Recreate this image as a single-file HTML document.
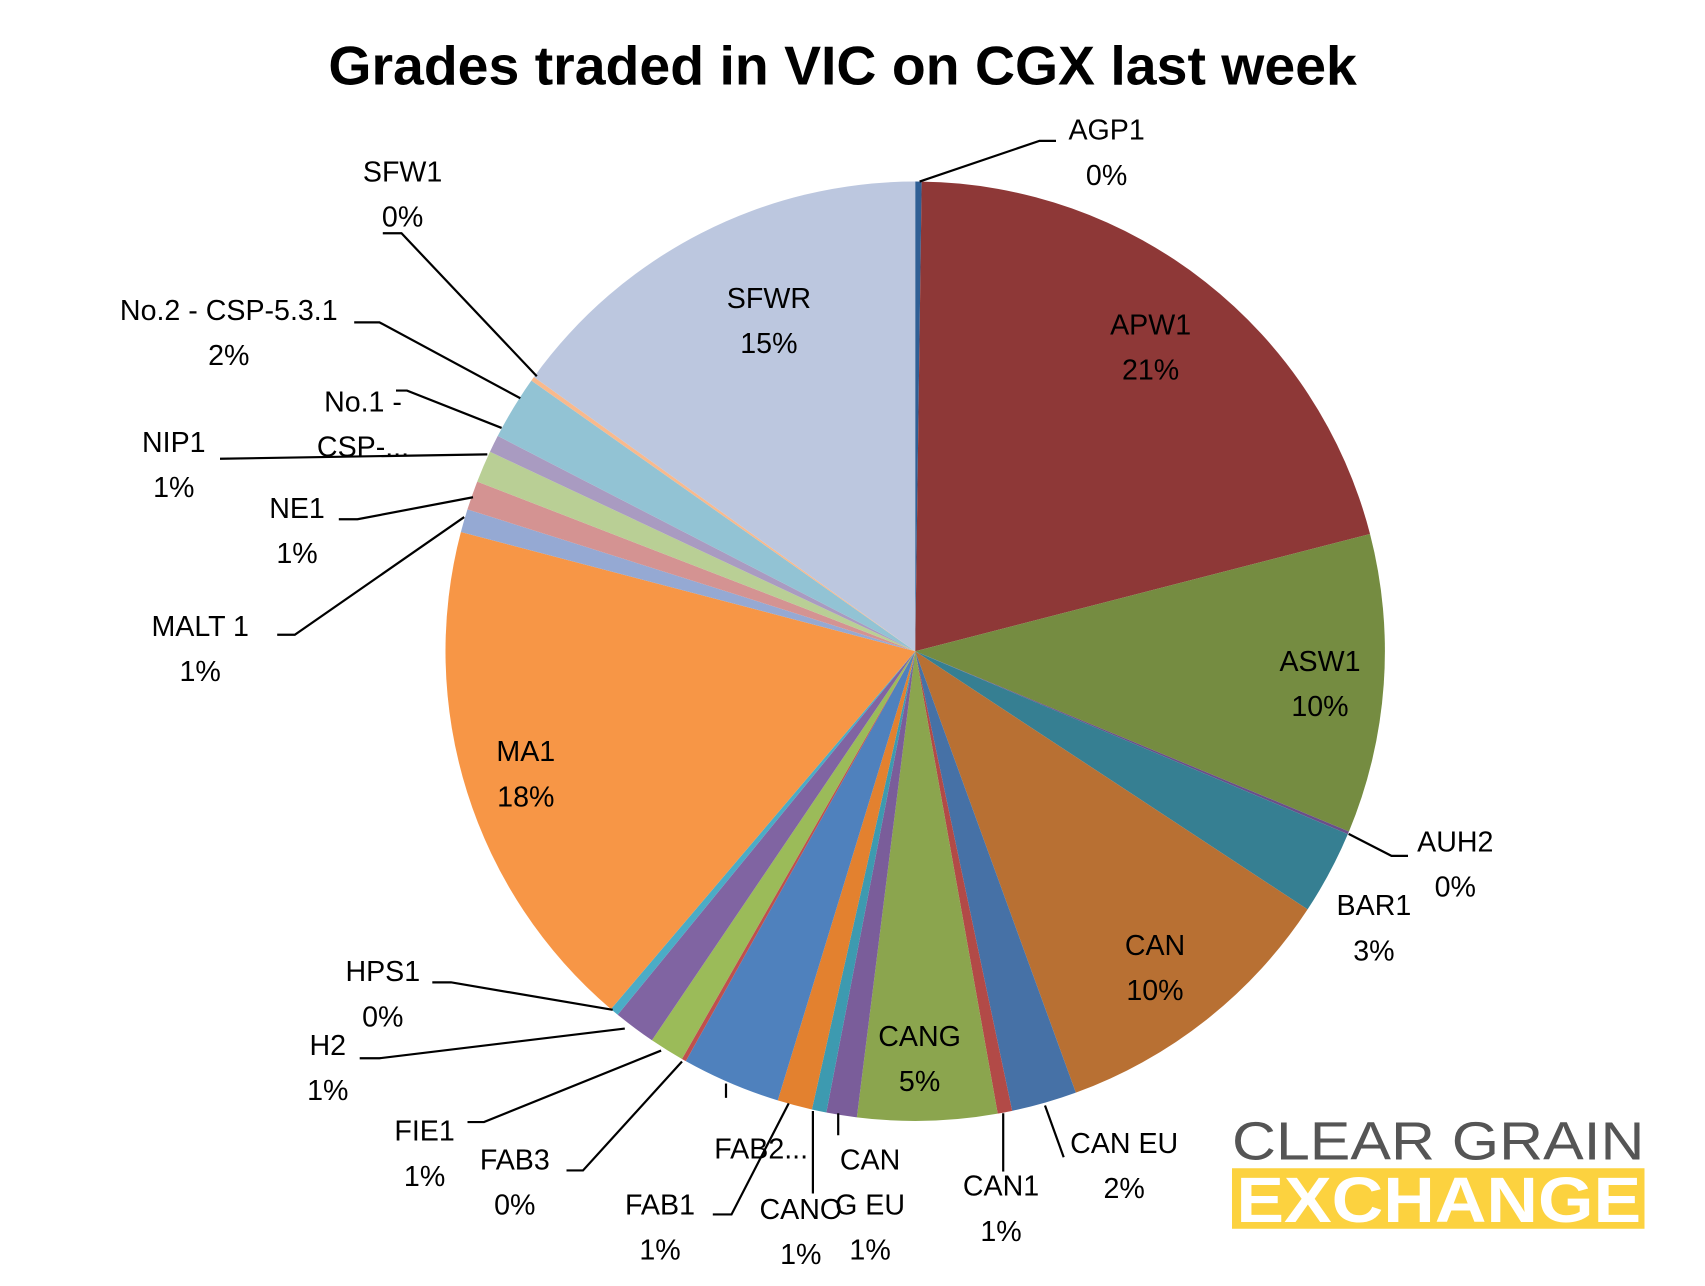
<!DOCTYPE html>
<html><head><meta charset="utf-8"><style>
html,body{margin:0;padding:0;background:#fff;}
svg{display:block;}
text{font-family:"Liberation Sans",sans-serif;}
</style></head><body>
<svg id="chart" width="1705" height="1286" viewBox="0 0 1550 1169" xmlns="http://www.w3.org/2000/svg">
<rect width="1550" height="1169" fill="#fff"/>
<text x="766" y="77" text-anchor="middle" font-size="50" font-weight="bold" textLength="935" lengthAdjust="spacingAndGlyphs">Grades traded in VIC on CGX last week</text>
<g id="slices"></g>
<g id="leaders" stroke="#000" stroke-width="2" fill="none">
<polyline points="836,165 945,128 960,128"/>
<polyline points="488,342 365,212 348,212"/>
<polyline points="473,362 345,293 322,293"/>
<polyline points="456,389 370,355 360,355"/>
<polyline points="443,413 200,417"/>
<polyline points="430,452 325,472 308,472"/>
<polyline points="422,470 268,577 252,577"/>
<polyline points="557,918 410,893 393,893"/>
<polyline points="568,935 345,962 327,962"/>
<polyline points="601,955 440,1020 425,1020"/>
<polyline points="620,965 530,1064 515,1064"/>
<polyline points="660,985 660,998"/>
<polyline points="717,1003 665,1104 648,1104"/>
<polyline points="739,1010 739,1085"/>
<polyline points="762,1012 762,1032"/>
<polyline points="912,1012 912,1065"/>
<polyline points="950,1005 967,1052"/>
<polyline points="1226,758 1265,778 1280,778"/>
</g>
<g id="labels" font-size="26" text-anchor="middle"></g>
<g>
<text x="1120" y="1054" font-size="49" fill="#555" textLength="375" lengthAdjust="spacingAndGlyphs">CLEAR GRAIN</text>
<rect x="1120" y="1062" width="375" height="55" fill="#fcd23f"/>
<text x="1124" y="1111" font-size="58" font-weight="bold" fill="#fff" textLength="368" lengthAdjust="spacingAndGlyphs">EXCHANGE</text>
</g>
</svg>
<script>
const categories=["AGP1","APW1","ASW1","AUH2","BAR1","CAN","CAN EU","CAN1","CANG","CANG EU","CANO","FAB2","FAB1","FAB3","FIE1","H2","HPS1","MA1","MALT 1","NE1","NIP1","No.1 - CSP","No.2 - CSP-5.3.1","SFW1","SFWR"];
const values=[0.22,20.8,10.3,0.1,2.9,10.2,2.25,0.5,4.8,1.05,0.5,1.2,3.4,0.15,1.2,1.45,0.3,17.9,0.8,1.0,1.1,0.6,2.2,0.15,15.1];
const pctLabels=["0%","21%","10%","0%","3%","10%","2%","1%","5%","1%","1%","","1%","0%","1%","1%","0%","18%","1%","1%","1%","","2%","0%","15%"];
const colors=["#2f5f95","#8e3837","#758c41","#6a4f8a","#367f92","#b87033","#4671a6","#b24a47","#8ba54e","#7a5d9a","#3d9ab0","#e3812f","#4f81bd","#c0504d","#9bbb59","#8064a2","#4bacc6","#f79646","#95a9d3","#d49392","#b9cf95","#a99bc1","#92c3d4","#f9b98c","#bcc7df"];
const labelLines=[["AGP1","0%"],["APW1","21%"],["ASW1","10%"],["AUH2","0%"],["BAR1","3%"],["CAN","10%"],["CAN EU","2%"],["CAN1","1%"],["CANG","5%"],["CAN","G EU","1%"],["CANO","1%"],["FAB2..."],["FAB1","1%"],["FAB3","0%"],["FIE1","1%"],["H2","1%"],["HPS1","0%"],["MA1","18%"],["MALT 1","1%"],["NE1","1%"],["NIP1","1%"],["No.1 -","CSP-..."],["No.2 - CSP-5.3.1","2%"],["SFW1","0%"],["SFWR","15%"]];
const labelPos=[[1006,127],[1046,304],[1200,610],[1323,774],[1249,832],[1050,868],[1022,1048],[910,1087],[836,951],[791,1063],[728,1108],[692,1053],[600,1104],[468,1063],[386,1037],[298,959],[348,892],[478,692],[182,578],[270,471],[158,411],[330,374],[208,291],[366,165],[699,280]];
const cx=832,cy=592,r=427;
const total=values.reduce((a,b)=>a+b,0);
const angle=v=>v/total*2*Math.PI;
const pt=a=>[cx+r*Math.sin(a),cy-r*Math.cos(a)];
const ns="http://www.w3.org/2000/svg";
const sg=document.getElementById('slices');
let a0=0;
values.forEach((v,i)=>{
  const a1=a0+angle(v);
  const p0=pt(a0),p1=pt(a1);
  const large=(a1-a0)>Math.PI?1:0;
  const p=document.createElementNS(ns,'path');
  p.setAttribute('d',`M${cx},${cy}L${p0[0]},${p0[1]}A${r},${r} 0 ${large} 1 ${p1[0]},${p1[1]}Z`);
  p.setAttribute('fill',colors[i]);
  
  
  sg.appendChild(p);
  a0=a1;
});
const lg=document.getElementById('labels');
labelLines.forEach((lines,i)=>{
  const t=document.createElementNS(ns,'text');
  
  
  lines.forEach((s,j)=>{
    const ts=document.createElementNS(ns,'tspan');
    ts.setAttribute('x',labelPos[i][0]);
    ts.setAttribute('y',labelPos[i][1]+j*41);
    ts.textContent=s;
    t.appendChild(ts);
  });
  lg.appendChild(t);
});
</script>
</body></html>
